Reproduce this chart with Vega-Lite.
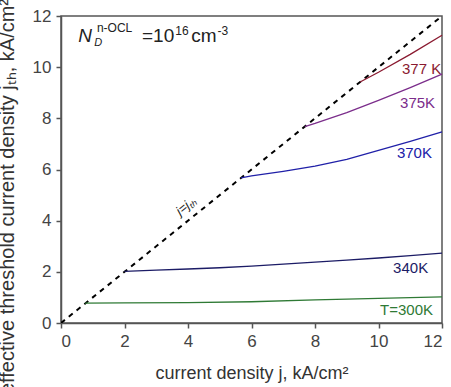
{
  "$schema": "https://vega.github.io/schema/vega-lite/v6.json",
  "width": 381,
  "height": 307,
  "autosize": "none",
  "padding": {"left": 61, "top": 16, "right": 9, "bottom": 64},
  "background": "white",
  "config": {"view": {"stroke": "#555", "strokeWidth": 1.5}, "font": "Liberation Sans"},
  "datasets": {
    "ideal": [{"x": 0, "y": 0}, {"x": 12, "y": 12}],
    "curves": [
      {"T": "300K", "x": 0.76, "y": 0.78}, {"T": "300K", "x": 2, "y": 0.79}, {"T": "300K", "x": 4, "y": 0.8}, {"T": "300K", "x": 6, "y": 0.83}, {"T": "300K", "x": 8, "y": 0.9}, {"T": "300K", "x": 10, "y": 0.96}, {"T": "300K", "x": 12, "y": 1.02},
      {"T": "340K", "x": 2, "y": 2.02}, {"T": "340K", "x": 3, "y": 2.07}, {"T": "340K", "x": 4, "y": 2.11}, {"T": "340K", "x": 5, "y": 2.16}, {"T": "340K", "x": 6, "y": 2.22}, {"T": "340K", "x": 7, "y": 2.3}, {"T": "340K", "x": 8, "y": 2.38}, {"T": "340K", "x": 9, "y": 2.46}, {"T": "340K", "x": 10, "y": 2.54}, {"T": "340K", "x": 11, "y": 2.63}, {"T": "340K", "x": 12, "y": 2.73},
      {"T": "370K", "x": 5.67, "y": 5.67}, {"T": "370K", "x": 6, "y": 5.75}, {"T": "370K", "x": 7, "y": 5.93}, {"T": "370K", "x": 8, "y": 6.13}, {"T": "370K", "x": 9, "y": 6.4}, {"T": "370K", "x": 10, "y": 6.75}, {"T": "370K", "x": 11, "y": 7.1}, {"T": "370K", "x": 12, "y": 7.47},
      {"T": "375K", "x": 7.68, "y": 7.68}, {"T": "375K", "x": 8, "y": 7.8}, {"T": "375K", "x": 9, "y": 8.22}, {"T": "375K", "x": 10, "y": 8.7}, {"T": "375K", "x": 11, "y": 9.2}, {"T": "375K", "x": 12, "y": 9.73},
      {"T": "377K", "x": 9.42, "y": 9.42}, {"T": "377K", "x": 10, "y": 9.8}, {"T": "377K", "x": 11, "y": 10.5}, {"T": "377K", "x": 12, "y": 11.25}
    ],
    "labels": [
      {"T": "300K", "x": 10.05, "y": 0.49, "label": "T=300K"},
      {"T": "340K", "x": 10.46, "y": 2.15, "label": "340K"},
      {"T": "370K", "x": 10.58, "y": 6.66, "label": "370K"},
      {"T": "375K", "x": 10.68, "y": 8.59, "label": "375K"},
      {"T": "377K", "x": 10.74, "y": 9.92, "label": "377 K"}
    ],
    "bigItalic": [{"x": 0.54, "y": 10.98, "text": "N"}],
    "bigPlain": [{"x": 2.55, "y": 10.98, "text": "=10"}, {"x": 4.1, "y": 10.98, "text": "cm"}],
    "smallItalic": [{"x": 1.05, "y": 10.84, "text": "D"}],
    "smallPlain": [{"x": 1.13, "y": 11.36, "text": "n-OCL"}, {"x": 3.6, "y": 11.27, "text": "16"}, {"x": 4.93, "y": 11.27, "text": "-3"}],
    "diag": [{"x": 3.94, "y": 4.57, "text": "j=jₜₕ"}]
  },
  "layer": [
    {
      "data": {"name": "ideal"},
      "mark": {"type": "line", "strokeDash": [5, 5], "color": "black", "strokeWidth": 2, "clip": true},
      "encoding": {
        "x": {"field": "x", "type": "quantitative", "scale": {"domain": [0, 12], "nice": false},
          "axis": {
            "values": [0, 1, 2, 3, 4, 5, 6, 7, 8, 9, 10, 11, 12],
            "labelExpr": "datum.value % 2 ? '' : datum.label",
            "tickSize": {"condition": {"test": "datum.value % 2", "value": 3}, "value": 5},
            "grid": false, "domainColor": "#555", "domainWidth": 1.5, "tickColor": "#555", "tickWidth": 1.5,
            "labelFontSize": 17, "labelColor": "#444", "labelPadding": 5,
            "title": "current density j, kA/cm²", "titleFontSize": 18, "titleFontWeight": "normal", "titleColor": "#333",
            "titleY": 55, "titleBaseline": "alphabetic"
          }},
        "y": {"field": "y", "type": "quantitative", "scale": {"domain": [0, 12], "nice": false},
          "axis": {
            "values": [0, 1, 2, 3, 4, 5, 6, 7, 8, 9, 10, 11, 12],
            "labelExpr": "datum.value % 2 ? '' : datum.label",
            "tickSize": {"condition": {"test": "datum.value % 2", "value": 3}, "value": 5},
            "grid": false, "domainColor": "#555", "domainWidth": 1.5, "tickColor": "#555", "tickWidth": 1.5,
            "labelFontSize": 17, "labelColor": "#444", "labelPadding": 5,
            "title": "effective threshold current density jₜₕ, kA/cm²", "titleFontSize": 20, "titleFontWeight": "normal", "titleColor": "#333",
            "titleX": -54, "titleY": 180, "titleAlign": "center", "titleBaseline": "middle", "titleAngle": -90
          }}
      }
    },
    {
      "data": {"name": "curves"},
      "mark": {"type": "line", "strokeWidth": 1.3},
      "encoding": {
        "x": {"field": "x", "type": "quantitative"},
        "y": {"field": "y", "type": "quantitative"},
        "color": {"field": "T", "type": "nominal", "legend": null,
          "scale": {"domain": ["300K", "340K", "370K", "375K", "377K"], "range": ["#2f7a35", "#1c1c66", "#2020a8", "#7b2d8b", "#8a1a30"]}}
      }
    },
    {
      "data": {"name": "labels"},
      "mark": {"type": "text", "align": "left", "baseline": "middle", "fontSize": 15},
      "encoding": {
        "x": {"field": "x", "type": "quantitative"},
        "y": {"field": "y", "type": "quantitative"},
        "text": {"field": "label"},
        "color": {"field": "T", "type": "nominal", "legend": null,
          "scale": {"domain": ["300K", "340K", "370K", "375K", "377K"], "range": ["#4a8f4a", "#3c3c80", "#333333", "#7a4a8a", "#7a3040"]}}
      }
    },
    {
      "data": {"name": "bigItalic"},
      "mark": {"type": "text", "align": "left", "baseline": "alphabetic", "fontSize": 19, "fontStyle": "italic", "color": "#222"},
      "encoding": {"x": {"field": "x", "type": "quantitative"}, "y": {"field": "y", "type": "quantitative"}, "text": {"field": "text"}}
    },
    {
      "data": {"name": "bigPlain"},
      "mark": {"type": "text", "align": "left", "baseline": "alphabetic", "fontSize": 19, "color": "#222"},
      "encoding": {"x": {"field": "x", "type": "quantitative"}, "y": {"field": "y", "type": "quantitative"}, "text": {"field": "text"}}
    },
    {
      "data": {"name": "smallItalic"},
      "mark": {"type": "text", "align": "left", "baseline": "alphabetic", "fontSize": 11, "fontStyle": "italic", "color": "#222"},
      "encoding": {"x": {"field": "x", "type": "quantitative"}, "y": {"field": "y", "type": "quantitative"}, "text": {"field": "text"}}
    },
    {
      "data": {"name": "smallPlain"},
      "mark": {"type": "text", "align": "left", "baseline": "alphabetic", "fontSize": 12, "color": "#222"},
      "encoding": {"x": {"field": "x", "type": "quantitative"}, "y": {"field": "y", "type": "quantitative"}, "text": {"field": "text"}}
    },
    {
      "data": {"name": "diag"},
      "mark": {"type": "text", "align": "center", "baseline": "middle", "fontSize": 13, "fontStyle": "italic", "angle": 321, "color": "#222"},
      "encoding": {"x": {"field": "x", "type": "quantitative"}, "y": {"field": "y", "type": "quantitative"}, "text": {"field": "text"}}
    }
  ]
}
